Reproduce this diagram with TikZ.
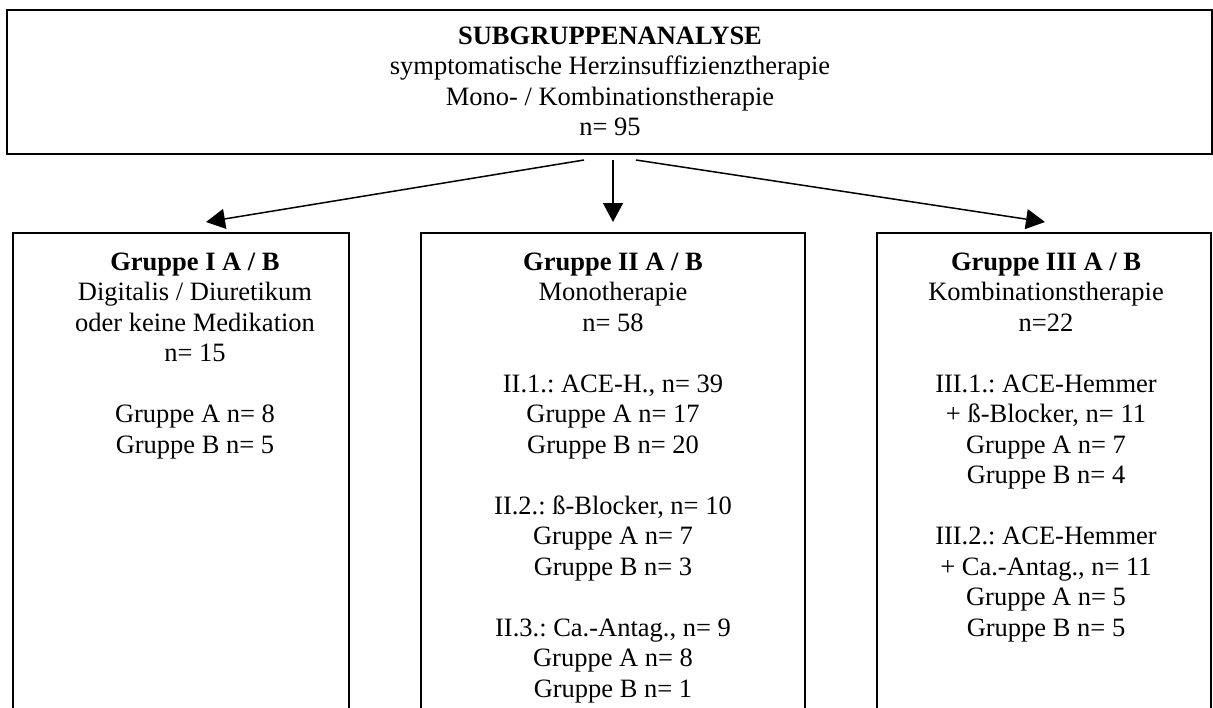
\documentclass[tikz,border=0pt]{standalone}
\usepackage{fontspec}
\setmainfont{Liberation Serif}
\usetikzlibrary{arrows.meta,fit}
\frenchspacing
\newcommand{\firstline}{\rule{0pt}{11pt}}
\begin{document}
\begin{tikzpicture}[x=0.5pt,y=-0.5pt,
  box/.style={draw,line width=1pt,inner sep=0pt},
  txt/.style={align=center,anchor=north,inner sep=0pt,
    font=\fontsize{13.25}{15.25}\selectfont\frenchspacing},
  arr/.style={line width=0.75pt,-{Triangle[length=9.5pt,width=10pt]}}]
\useasboundingbox (0,0) rectangle (1213,707);
\clip (0,0) rectangle (1213,707);

% frames
\node[box,fit={(7,10) (1212,154)}] (top) {};
\node[box,fit={(13,233) (349,760)}] (g1) {};
\node[box,fit={(421,233) (805,760)}] (g2) {};
\node[box,fit={(877,233) (1211,760)}] (g3) {};

% texts
\node[txt] (ttop) at (610,22) {\firstline\textbf{SUBGRUPPENANALYSE}\\
  symptomatische Herzinsuffizienztherapie\\
  Mono- / Kombinationstherapie\\
  n= 95};

\node[txt] (t1) at (195,248) {\firstline\textbf{Gruppe I A / B}\\
  Digitalis / Diuretikum\\
  oder keine Medikation\\
  n= 15\\[15.25pt]
  Gruppe A n= 8\\
  Gruppe B n= 5};

\node[txt] (t2) at (613,248) {\firstline\textbf{Gruppe II A / B}\\
  Monotherapie\\
  n= 58\\[15.25pt]
  II.1.: ACE-H., n= 39\\
  Gruppe A n= 17\\
  Gruppe B n= 20\\[15.25pt]
  II.2.: ß-Blocker, n= 10\\
  Gruppe A n= 7\\
  Gruppe B n= 3\\[15.25pt]
  II.3.: Ca.-Antag., n= 9\\
  Gruppe A n= 8\\
  Gruppe B n= 1};

\node[txt] (t3) at (1046,248) {\firstline\textbf{Gruppe III A / B}\\
  Kombinationstherapie\\
  n=22\\[15.25pt]
  III.1.: ACE-Hemmer\\
  + ß-Blocker, n= 11\\
  Gruppe A n= 7\\
  Gruppe B n= 4\\[15.25pt]
  III.2.: ACE-Hemmer\\
  + Ca.-Antag., n= 11\\
  Gruppe A n= 5\\
  Gruppe B n= 5};

% arrow ends
\coordinate (s1) at (584,160);
\coordinate (s2) at (613,160);
\coordinate (s3) at (636,160);
\coordinate (e1) at (206,222);
\coordinate (e2) at (613,222);
\coordinate (e3) at (1045,222);
\draw[arr] (s1) -- (e1);
\draw[arr] (s2) -- (e2);
\draw[arr] (s3) -- (e3);
\end{tikzpicture}
\end{document}
